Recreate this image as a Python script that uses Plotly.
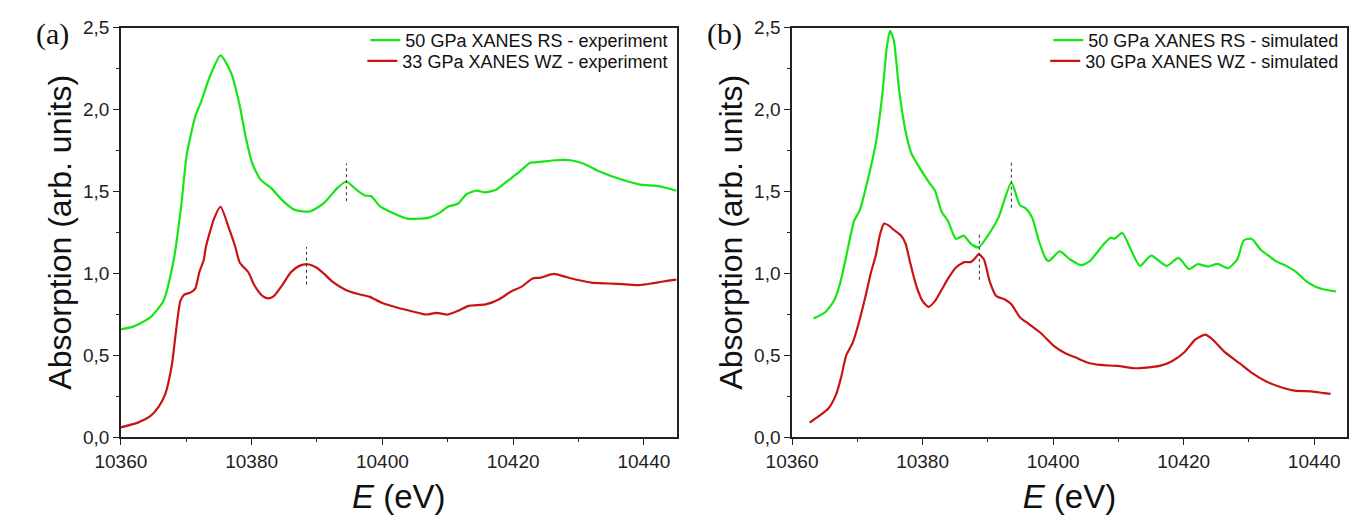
import plotly.graph_objects as go

# ---------------- data ----------------
exp_rs_E = [10360, 10361.9, 10364.5, 10366.5, 10368.1, 10369.2, 10370.1, 10371.4, 10372.3, 10373.6,
            10375.25, 10376.9, 10378.2, 10379.1, 10380.1, 10381.4, 10383.0, 10384.7, 10386.6, 10388.9,
            10391.1, 10393.1, 10394.5, 10396.0, 10397.3, 10398.3, 10399.6, 10401.5, 10403.8, 10407.0,
            10408.7, 10410.0, 10411.6, 10412.9, 10414.4, 10415.7, 10417.4, 10419.1, 10421.0, 10422.6,
            10424.2, 10426.5, 10428.8, 10430.7, 10433.3, 10436.6, 10439.2, 10442.4, 10445]
exp_rs_A = [0.658, 0.674, 0.73, 0.83, 1.084, 1.40, 1.73, 1.96, 2.05, 2.20,
            2.33, 2.22, 2.02, 1.83, 1.67, 1.57, 1.52, 1.445, 1.387, 1.377,
            1.43, 1.52, 1.56, 1.51, 1.475, 1.47, 1.41, 1.37, 1.334, 1.338,
            1.367, 1.406, 1.426, 1.484, 1.504, 1.494, 1.51, 1.562, 1.62, 1.674,
            1.68, 1.69, 1.69, 1.67, 1.62, 1.572, 1.543, 1.53, 1.504]

exp_wz_E = [10360, 10362.6, 10364.5, 10365.8, 10366.8, 10367.8, 10368.4, 10369.1, 10369.7, 10370.7,
            10371.4, 10372.0, 10372.7, 10373.0, 10374.3, 10375.25, 10376.5, 10377.5, 10378.2, 10379.5,
            10380.4, 10381.7, 10382.6, 10383.4, 10384.7, 10386.0, 10387.3, 10388.6, 10389.9, 10391.1,
            10392.4, 10394.4, 10396.3, 10398.0, 10398.6, 10399.9, 10402.2, 10404.5, 10406.7, 10408.3,
            10410.0, 10411.6, 10413.2, 10415.8, 10417.8, 10419.7, 10421.3, 10422.9, 10424.2, 10426.2,
            10428.1, 10430.1, 10432.0, 10434.6, 10437.2, 10439.2, 10441.1, 10443.1, 10445]
exp_wz_A = [0.059, 0.088, 0.127, 0.186, 0.264, 0.44, 0.635, 0.83, 0.869, 0.883,
            0.908, 1.006, 1.084, 1.16, 1.338, 1.406, 1.279, 1.162, 1.064, 1.006,
            0.928, 0.86, 0.846, 0.86, 0.928, 1.006, 1.045, 1.055, 1.035, 0.996,
            0.947, 0.898, 0.873, 0.857, 0.846, 0.82, 0.791, 0.768, 0.748, 0.758,
            0.748, 0.771, 0.801, 0.81, 0.84, 0.889, 0.918, 0.967, 0.973, 0.996,
            0.977, 0.957, 0.943, 0.9375, 0.932, 0.928, 0.9375, 0.951, 0.961]

sim_rs_E = [10363.3, 10365.1, 10366.4, 10367.3, 10368.2, 10369.5, 10370.4, 10371.5, 10372.8, 10373.8,
            10374.5, 10375.0, 10375.6, 10376.4, 10377.4, 10378.3, 10379.6, 10380.9, 10381.9, 10382.9,
            10383.9, 10385.1, 10386.3, 10387.4, 10388.6, 10390.0, 10391.6, 10393.6, 10394.9, 10395.8,
            10396.8, 10397.8, 10398.8, 10399.3, 10401.0, 10402.6, 10404.3, 10405.6, 10407.2, 10407.8,
            10408.8, 10409.4, 10410.6, 10411.7, 10413.3, 10415.0, 10417.4, 10419.2, 10420.8, 10422.1,
            10423.7, 10425.2, 10426.8, 10428.2, 10429.2, 10430.4, 10431.8, 10433.1, 10434.1, 10435.7,
            10437.3, 10438.6, 10440.2, 10441.9, 10443.3]
sim_rs_A = [0.723, 0.762, 0.83, 0.928, 1.084, 1.318, 1.387, 1.553, 1.787, 2.08,
            2.373, 2.48, 2.42, 2.12, 1.865, 1.73, 1.64, 1.56, 1.504, 1.377,
            1.318, 1.21, 1.23, 1.18, 1.158, 1.23, 1.338, 1.553, 1.416, 1.396,
            1.338, 1.2, 1.094, 1.074, 1.133, 1.084, 1.049, 1.074, 1.15, 1.18,
            1.217, 1.211, 1.246, 1.162, 1.045, 1.107, 1.045, 1.094, 1.025, 1.055,
            1.041, 1.057, 1.031, 1.084, 1.2, 1.211, 1.143, 1.104, 1.074, 1.045,
            1.006, 0.957, 0.918, 0.898, 0.889]

sim_wz_E = [10362.7, 10364.1, 10365.6, 10366.7, 10367.5, 10368.3, 10369.3, 10370.2, 10371.2, 10372.1,
            10372.8, 10373.5, 10374.1, 10374.9, 10375.6, 10376.7, 10377.4, 10378.1, 10379.0, 10380.0,
            10380.9, 10381.9, 10382.9, 10383.9, 10385.1, 10386.4, 10387.4, 10388.0, 10388.6, 10389.4,
            10390.3, 10391.3, 10392.6, 10393.6, 10394.9, 10396.2, 10398.1, 10400.1, 10402.0, 10403.3,
            10405.2, 10407.2, 10409.8, 10412.4, 10414.3, 10416.3, 10418.2, 10420.1, 10421.8, 10423.3,
            10424.4, 10426.3, 10428.6, 10430.5, 10432.5, 10434.7, 10437.0, 10439.6, 10441.5, 10442.5]
sim_wz_A = [0.088, 0.127, 0.176, 0.254, 0.361, 0.498, 0.576, 0.693, 0.85, 1.006,
            1.104, 1.24, 1.303, 1.289, 1.264, 1.23, 1.18, 1.064, 0.928, 0.83,
            0.795, 0.83, 0.898, 0.967, 1.035, 1.068, 1.068, 1.09, 1.117, 1.084,
            0.947, 0.86, 0.84, 0.81, 0.732, 0.693, 0.635, 0.557, 0.508, 0.488,
            0.455, 0.44, 0.434, 0.42, 0.424, 0.434, 0.463, 0.518, 0.596, 0.625,
            0.596, 0.518, 0.449, 0.39, 0.342, 0.307, 0.283, 0.279, 0.268, 0.264]

# dotted peak markers: energy, [y_low, y_high]
mark_exp_rs = (10394.5, [1.44, 1.67])
mark_exp_wz = (10388.4, [0.93, 1.16])
mark_sim_rs = (10393.6, [1.40, 1.68])
mark_sim_wz = (10388.7, [0.96, 1.24])

names = ["50 GPa XANES RS - experiment", "33 GPa XANES WZ - experiment",
         "50 GPa XANES RS - simulated", "30 GPa XANES WZ - simulated"]

x_ticks = [10360, 10380, 10400, 10420, 10440]
x_ticktext = ["10360", "10380", "10400", "10420", "10440"]
y_ticks = [0.0, 0.5, 1.0, 1.5, 2.0, 2.5]
y_ticktext = ["0,0", "0,5", "1,0", "1,5", "2,0", "2,5"]
x_range = [10360, 10445]
y_range = [0, 2.5]

GREEN = "#14e614"
RED = "#c81414"
FONT = "Liberation Sans"

fig = go.Figure()

def curve(x, y, name, color, xa, ya, legend):
    fig.add_trace(go.Scatter(x=x, y=y, mode="lines", name=name, xaxis=xa, yaxis=ya,
                             legend=legend, line=dict(color=color, width=2.2, shape="spline", smoothing=0.6)))

def marker(m, xa, ya):
    fig.add_trace(go.Scatter(x=[m[0], m[0]], y=m[1], mode="lines", showlegend=False,
                             xaxis=xa, yaxis=ya, line=dict(color="#333333", width=1, dash="dot")))

curve(exp_rs_E, exp_rs_A, names[0], GREEN, "x", "y", "legend")
curve(exp_wz_E, exp_wz_A, names[1], RED, "x", "y", "legend2")
curve(sim_rs_E, sim_rs_A, names[2], GREEN, "x2", "y2", "legend3")
curve(sim_wz_E, sim_wz_A, names[3], RED, "x2", "y2", "legend4")
marker(mark_exp_rs, "x", "y")
marker(mark_exp_wz, "x", "y")
marker(mark_sim_rs, "x2", "y2")
marker(mark_sim_wz, "x2", "y2")

W, H = 1357, 520
ydom = [75 / H, 501.7 / H]
xdom1 = [96.7 / W, 663.3 / W]
xdom2 = [781 / W, 1346.7 / W]

def xaxis(dom, anchor):
    return dict(domain=dom, anchor=anchor, range=x_range, tickvals=x_ticks, ticktext=x_ticktext,
                ticks="outside", ticklen=6, tickwidth=1.3, tickcolor="#222",
                minor=dict(ticks="outside", ticklen=3, tickwidth=1.3, tickcolor="#222", dtick=10, showgrid=False),
                showline=True, linecolor="#222", linewidth=1.5, mirror=True, showgrid=False, zeroline=False,
                tickfont=dict(family=FONT, size=19, color="#222"),
                title=dict(text="<i>E</i> (eV)", font=dict(family=FONT, size=33, color="#111"), standoff=14))

def yaxis(anchor):
    return dict(domain=ydom, anchor=anchor, range=y_range, tickvals=y_ticks, ticktext=y_ticktext,
                ticks="outside", ticklen=6, tickwidth=1.3, tickcolor="#222",
                minor=dict(ticks="outside", ticklen=3, tickwidth=1.3, tickcolor="#222", dtick=0.25, showgrid=False),
                showline=True, linecolor="#222", linewidth=1.5, mirror=True, showgrid=False, zeroline=False,
                tickfont=dict(family=FONT, size=19, color="#222"),
                title=dict(text="Absorption (arb. units)", font=dict(family=FONT, size=32, color="#111"), standoff=2))

legend_common = dict(xanchor="right", yanchor="middle", bgcolor="rgba(0,0,0,0)",
                     font=dict(family=FONT, size=18, color="#111"), itemwidth=30)

fig.update_layout(
    width=W, height=H, autosize=False,
    margin=dict(l=0, r=0, t=0, b=0),
    paper_bgcolor="white", plot_bgcolor="white",
    xaxis=xaxis(xdom1, "y"), yaxis=yaxis("x"),
    xaxis2=xaxis(xdom2, "y2"), yaxis2=yaxis("x2"),
    legend=dict(x=660 / W, y=1 - 31.7 / H, **legend_common),
    legend2=dict(x=660 / W, y=1 - 53.3 / H, **legend_common),
    legend3=dict(x=1344 / W, y=1 - 31.7 / H, **legend_common),
    legend4=dict(x=1344 / W, y=1 - 53.3 / H, **legend_common),
    annotations=[
        dict(text="(a)", x=8 / W, y=1 - 25 / H, xref="paper", yref="paper", xanchor="left", yanchor="middle",
             showarrow=False, font=dict(family="Liberation Serif", size=30, color="#111")),
        dict(text="(b)", x=692 / W, y=1 - 25 / H, xref="paper", yref="paper", xanchor="left", yanchor="middle",
             showarrow=False, font=dict(family="Liberation Serif", size=30, color="#111")),
    ],
)

fig.write_html("out.html")
